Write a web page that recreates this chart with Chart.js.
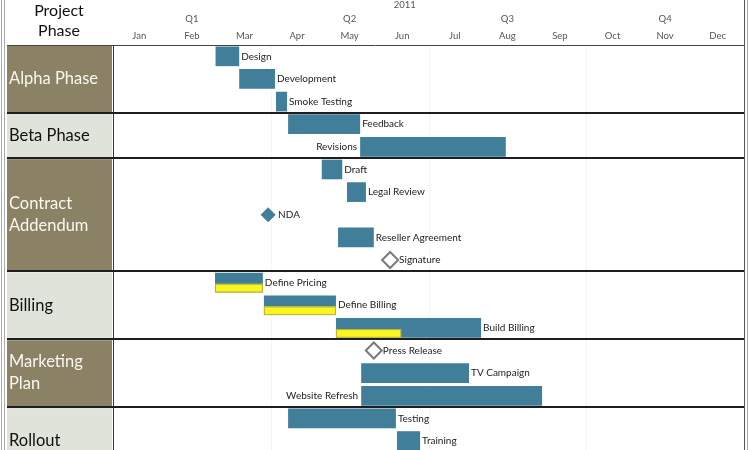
<!DOCTYPE html>
<html>
<head>
<meta charset="utf-8">
<script src="https://cdn.jsdelivr.net/npm/chart.js@4.4.0/dist/chart.umd.min.js"></script>
<style>
  html, body { margin: 0; padding: 0; background: #fff; overflow: hidden; }
</style>
</head>
<body>
<canvas id="gantt" width="750" height="478"></canvas>
<script>
// calendar labels (x axis is in months, 0 = start of Jan, 12 = end of Dec)
const year = '2011';
const quarters = ['Q1', 'Q2', 'Q3', 'Q4'];
const months = ['Jan', 'Feb', 'Mar', 'Apr', 'May', 'Jun', 'Jul', 'Aug', 'Sep', 'Oct', 'Nov', 'Dec'];

// one row per task, top to bottom (last row is cut off in the picture)
const tasks = ['Design', 'Development', 'Smoke Testing', 'Feedback', 'Revisions', 'Draft', 'Legal Review', 'NDA',
  'Reseller Agreement', 'Signature', 'Define Pricing', 'Define Billing', 'Build Billing', 'Press Release',
  'TV Campaign', 'Website Refresh', 'Testing', 'Training', ''];
const taskStart = [1.95, 2.4, 3.1, 3.33, 4.7, 3.97, 4.45, null, 4.28, null, 1.94, 2.87, 4.24, null, 4.72, 4.72, 3.33, 5.4, null];
const taskEnd = [2.4, 3.08, 3.31, 4.7, 7.47, 4.36, 4.81, null, 4.96, null, 2.85, 4.24, 7.0, null, 6.77, 8.16, 5.38, 5.84, null];
const taskProgress = [null, null, null, null, null, null, null, null, null, null, 2.85, 4.24, 5.48, null, null, null, null, null, null];

// milestones (diamonds)
const milestones = ['NDA', 'Signature', 'Press Release'];
const milestoneAt = [2.95, 5.27, 4.96];
const milestoneDone = [true, false, false];

// phase groups in the left column
const phases = [['Alpha Phase'], ['Beta Phase'], ['Contract', 'Addendum'], ['Billing'], ['Marketing', 'Plan'], ['Rollout']];
const phaseRows = [3, 2, 5, 3, 3, 3];

// labels drawn to the left of the bar
const labelLeft = ['Revisions', 'Website Refresh'];

const BLUE = '#417e99';
const KHAKI = '#8b8265';
const PALE = '#dfe3d9';

const ganttDecor = {
  id: 'ganttDecor',
  beforeDatasetsDraw(chart) {
    const { ctx, chartArea: a, scales: { x, y } } = chart;
    const rowH = (a.bottom - a.top) / tasks.length;
    ctx.save();

    // outer frame
    ctx.strokeStyle = '#a8a8a8';
    ctx.lineWidth = 1;
    [1.5, 4.5, 747.5].forEach(px => {
      ctx.beginPath(); ctx.moveTo(px, 0); ctx.lineTo(px, chart.height); ctx.stroke();
    });
    ctx.strokeStyle = '#555';
    ctx.beginPath(); ctx.moveTo(a.right + 0.5, 0); ctx.lineTo(a.right + 0.5, chart.height); ctx.stroke();

    // barely visible quarter grid
    ctx.strokeStyle = '#f5f5f5';
    [3, 6, 9].forEach(v => {
      const px = Math.round(x.getPixelForValue(v)) + 0.5;
      ctx.beginPath(); ctx.moveTo(px, a.top); ctx.lineTo(px, a.bottom); ctx.stroke();
    });

    // header
    ctx.fillStyle = '#111';
    ctx.font = '16px Lato';
    ctx.textAlign = 'center';
    ctx.textBaseline = 'middle';
    ctx.fillText('Project', 59, 11);
    ctx.fillText('Phase', 59, 31);

    ctx.fillStyle = '#555';
    ctx.font = '9.5px Lato';
    ctx.fillText(year, x.getPixelForValue(5.55), 5);
    quarters.forEach((q, i) => ctx.fillText(q, x.getPixelForValue(i * 3 + 1.5), 19));
    months.forEach((m, i) => ctx.fillText(m, x.getPixelForValue(i + 0.5), 36));

    ctx.strokeStyle = '#444';
    ctx.beginPath(); ctx.moveTo(7, a.top + 0.5); ctx.lineTo(a.right, a.top + 0.5); ctx.stroke();

    // phase boxes
    let row = 0;
    phases.forEach((lines, i) => {
      const top = y.getPixelForValue(row) - rowH / 2;
      const bottom = top + phaseRows[i] * rowH;
      const dark = i % 2 === 0;
      ctx.fillStyle = dark ? KHAKI : PALE;
      ctx.fillRect(7, top + 1, 105, bottom - top - 1);
      ctx.fillStyle = dark ? '#f8f8f2' : '#111';
      ctx.font = '16.5px Lato';
      ctx.textAlign = 'left';
      const mid = (top + bottom) / 2;
      lines.forEach((t, k) => ctx.fillText(t, 9, mid + (k - (lines.length - 1) / 2) * 22));
      row += phaseRows[i];
    });

    ctx.strokeStyle = '#333';
    ctx.beginPath(); ctx.moveTo(a.left + 0.5, a.top); ctx.lineTo(a.left + 0.5, a.bottom); ctx.stroke();
    ctx.restore();
  },
  afterDatasetsDraw(chart) {
    const { ctx, chartArea: a, scales: { x, y } } = chart;
    const rowH = (a.bottom - a.top) / tasks.length;
    const bars = chart.getDatasetMeta(0).data;
    ctx.save();

    // progress (yellow lower part of the bar)
    taskProgress.forEach((p, i) => {
      if (p == null) return;
      const b = bars[i];
      const x0 = x.getPixelForValue(taskStart[i]);
      const x1 = x.getPixelForValue(p);
      const top = b.y - b.height / 2 + b.height * 0.56;
      const h = b.height * 0.44;
      ctx.fillStyle = '#f8f523';
      ctx.fillRect(x0, top, x1 - x0, h);
      ctx.strokeStyle = '#b9b23a';
      ctx.lineWidth = 1;
      ctx.strokeRect(x0 + 0.5, top + 0.5, x1 - x0 - 1, h - 1);
    });

    // task labels
    ctx.font = '10px Lato';
    ctx.fillStyle = '#222';
    ctx.textBaseline = 'middle';
    tasks.forEach((t, i) => {
      if (taskStart[i] == null || !t) return;
      const yy = y.getPixelForValue(i);
      if (labelLeft.includes(t)) {
        ctx.textAlign = 'right';
        ctx.fillText(t, x.getPixelForValue(taskStart[i]) - 3, yy);
      } else {
        ctx.textAlign = 'left';
        ctx.fillText(t, x.getPixelForValue(taskEnd[i]) + 2, yy);
      }
    });
    ctx.textAlign = 'left';
    milestones.forEach((m, i) => {
      ctx.fillText(m, x.getPixelForValue(milestoneAt[i]) + (milestoneDone[i] ? 10 : 9), y.getPixelForValue(m));
    });

    // group separators
    ctx.strokeStyle = '#1e1e1e';
    ctx.lineWidth = 2;
    let row = 0;
    phaseRows.forEach(n => {
      row += n;
      if (row >= tasks.length) return;
      const py = Math.round(y.getPixelForValue(row) - rowH / 2);
      ctx.beginPath(); ctx.moveTo(7, py); ctx.lineTo(a.right, py); ctx.stroke();
    });
    ctx.restore();
  }
};

new Chart(document.getElementById('gantt').getContext('2d'), {
  type: 'bar',
  data: {
    labels: tasks,
    datasets: [
      {
        type: 'bar',
        data: tasks.map((t, i) => (taskStart[i] == null ? null : [taskStart[i], taskEnd[i]])),
        backgroundColor: BLUE,
        borderWidth: 0,
        barPercentage: 0.87,
        categoryPercentage: 1,
      },
      {
        type: 'scatter',
        data: milestones.map((m, i) => ({ x: milestoneAt[i], y: m })),
        pointStyle: 'rectRot',
        pointRadius: milestoneDone.map(d => (d ? 7 : 8)),
        pointBackgroundColor: milestoneDone.map(d => (d ? BLUE : '#ffffff')),
        pointBorderColor: milestoneDone.map(d => (d ? BLUE : '#7a7a7a')),
        pointBorderWidth: milestoneDone.map(d => (d ? 1 : 2)),
        showLine: false,
      },
    ],
  },
  options: {
    responsive: false,
    animation: false,
    indexAxis: 'y',
    layout: { autoPadding: false, padding: { left: 113, right: 6, top: 45, bottom: 3 } },
    plugins: { legend: { display: false }, tooltip: { enabled: false } },
    scales: {
      x: { type: 'linear', min: 0, max: 12, display: false },
      y: { type: 'category', labels: tasks, offset: true, display: false },
    },
  },
  plugins: [ganttDecor],
});
</script>
</body>
</html>
